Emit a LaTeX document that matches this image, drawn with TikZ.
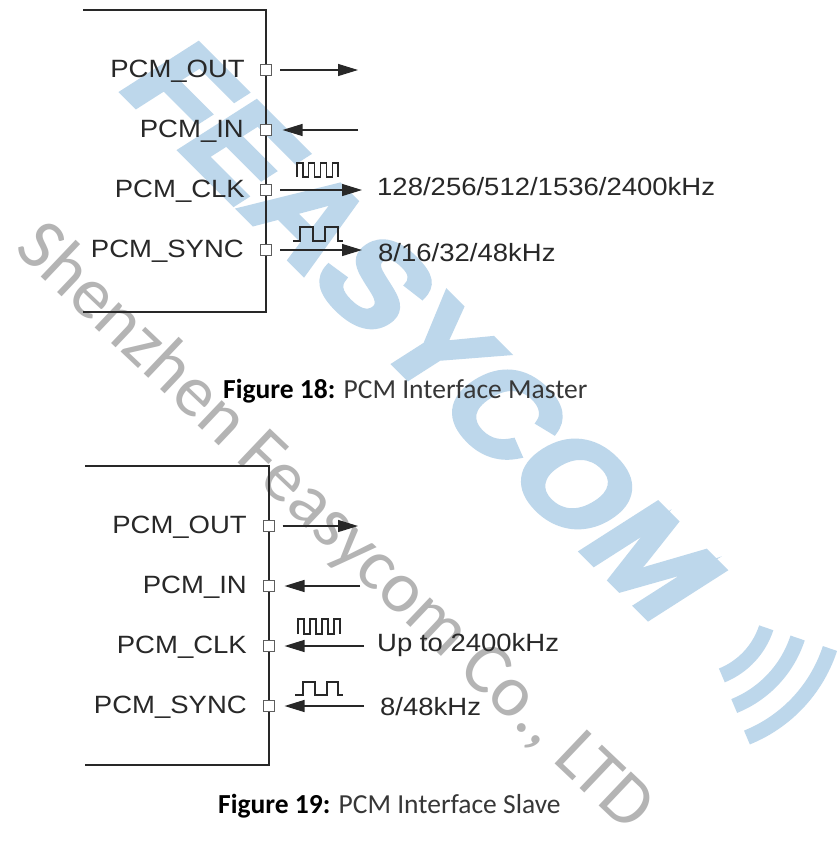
\documentclass[tikz,border=0pt]{standalone}
\usepackage{fontspec}
\setmainfont{Liberation Sans}
\newfontfamily\arialx[FakeStretch=1.1]{Liberation Sans}
\newfontfamily\calib{Carlito}
\newfontfamily\logofont[UprightFont={* Bold}, FakeStretch=1.05, FakeSlant=0.22, FakeBold=4]{Liberation Sans}
\usetikzlibrary{arrows.meta}
\definecolor{wmblue}{RGB}{189,215,235}
\definecolor{wmgray}{RGB}{180,180,180}
\definecolor{ink}{RGB}{40,40,40}
\definecolor{capgray}{RGB}{55,55,55}
\tikzset{
  boxline/.style={draw=ink, line width=1.6pt},
  pinbox/.style={rectangle, draw=ink!75, fill=white, line width=1.1pt, minimum width=11pt, minimum height=11pt, inner sep=0pt},
  sig/.style={draw=ink, line width=1.3pt, -{Triangle[length=20pt,width=12pt]}},
  wave/.style={draw=ink, line width=1.2pt},
  lab/.style={anchor=base east, inner sep=0pt, text=ink, font=\arialx\fontsize{25}{30}\selectfont},
  freq/.style={anchor=base west, inner sep=0pt, text=ink, font=\arialx\fontsize{25}{30}\selectfont},
  capt/.style={anchor=base west, inner sep=0pt, text=black, font=\calib\fontsize{27.5}{33}\selectfont},
  wavearc/.style={draw=wmblue, line width=15pt},
}
\begin{document}
\begin{tikzpicture}[x=1pt,y=-1pt]
\fill[white] (0,0) rectangle (837,855);
\useasboundingbox (0,0) rectangle (837,855);

% watermarks
\node[rotate=-45, anchor=base west, inner sep=0pt, text=wmblue,
      font=\logofont\fontsize{128}{135}\selectfont] (logo) at (116,86) {FEASYCOM};
\foreach \r in {77,110,144}
  \draw[wavearc] plot[domain=18:68, samples=30, variable=\t] ({693+\r*cos(\t)},{604+\r*sin(\t)});
\node[rotate=-43.5, anchor=base west, inner sep=0pt, text=wmgray,
      font=\calib\fontsize{73}{80}\selectfont] (wm) at (13,250) {Shenzhen Feasycom Co., LTD};

% ---------- Master ----------
\draw[boxline] (83,10) -- (266,10) -- (266,312) -- (83,312);
\node[pinbox] (mo) at (266,70) {};
\node[pinbox] (mi) at (266,130) {};
\node[pinbox] (mc) at (266,190) {};
\node[pinbox] (ms) at (266,250) {};
\node[lab] (mol) at (245,77.5) {PCM\_OUT};
\node[lab] (mil) at (244,137.5) {PCM\_IN};
\node[lab] (mcl) at (245,197.5) {PCM\_CLK};
\node[lab] (msl) at (244,257.5) {PCM\_SYNC};
\coordinate (mot) at (358,70);
\coordinate (mit) at (358,130);
\coordinate (mct) at (362,190);
\coordinate (mst) at (362,250);
\draw[sig, shorten <=8pt] (mo.east) -- (mot);
\draw[sig, shorten >=10.5pt] (mit) -- (mi.east);
\draw[sig, shorten <=8pt] (mc.east) -- (mct);
\draw[sig, shorten <=8pt] (ms.east) -- (mst);
\draw[wave] (297,177) -- (297,163) -- (302.9,163) -- (302.9,177) -- (308.7,177) -- (308.7,163)
  -- (314.6,163) -- (314.6,177) -- (320.4,177) -- (320.4,163) -- (326.3,163) -- (326.3,177)
  -- (332.1,177) -- (332.1,163) -- (338,163) -- (338,177);
\draw[wave] (293,241) -- (300,241) -- (300,227) -- (313,227) -- (313,241) -- (325,241)
  -- (325,227) -- (338,227) -- (338,241) -- (343,241);
\node[freq] (mcf) at (377,195) {128/256/512/1536/2400kHz};
\node[freq] (msf) at (378,261.5) {8/16/32/48kHz};
\node[capt] (c18) at (223,398) {\textbf{Figure 18:} \textcolor{capgray}{PCM Interface Master}};

% ---------- Slave ----------
\draw[boxline] (85,466) -- (269,466) -- (269,765) -- (85,765);
\node[pinbox] (so) at (269,526) {};
\node[pinbox] (si) at (269,586) {};
\node[pinbox] (sc) at (269,646) {};
\node[pinbox] (ss) at (269,706) {};
\node[lab] (sol) at (247,533.5) {PCM\_OUT};
\node[lab] (sil) at (247,593.5) {PCM\_IN};
\node[lab] (scl) at (247,653.5) {PCM\_CLK};
\node[lab] (ssl) at (247,713.5) {PCM\_SYNC};
\coordinate (sot) at (358,526);
\coordinate (sis) at (360,586);
\coordinate (scs) at (364,646);
\coordinate (sss) at (364,706);
\draw[sig, shorten <=7.5pt] (so.east) -- (sot);
\draw[sig, shorten >=9.5pt] (sis) -- (si.east);
\draw[sig, shorten >=9.5pt] (scs) -- (sc.east);
\draw[sig, shorten >=9.5pt] (sss) -- (ss.east);
\draw[wave] (298,634) -- (298,619) -- (304,619) -- (304,634) -- (310,634) -- (310,619)
  -- (316,619) -- (316,634) -- (322,634) -- (322,619) -- (328,619) -- (328,634)
  -- (334,634) -- (334,619) -- (340,619) -- (340,634);
\draw[wave] (295,695) -- (303,695) -- (303,682) -- (315,682) -- (315,695) -- (327,695)
  -- (327,682) -- (338,682) -- (338,695) -- (343,695);
\node[freq] (scf) at (377,651.5) {Up to 2400kHz};
\node[freq] (ssf) at (380,715) {8/48kHz};
\node[capt] (c19) at (218,813) {\textbf{Figure 19:} \textcolor{capgray}{PCM Interface Slave}};
\end{tikzpicture}
\end{document}
